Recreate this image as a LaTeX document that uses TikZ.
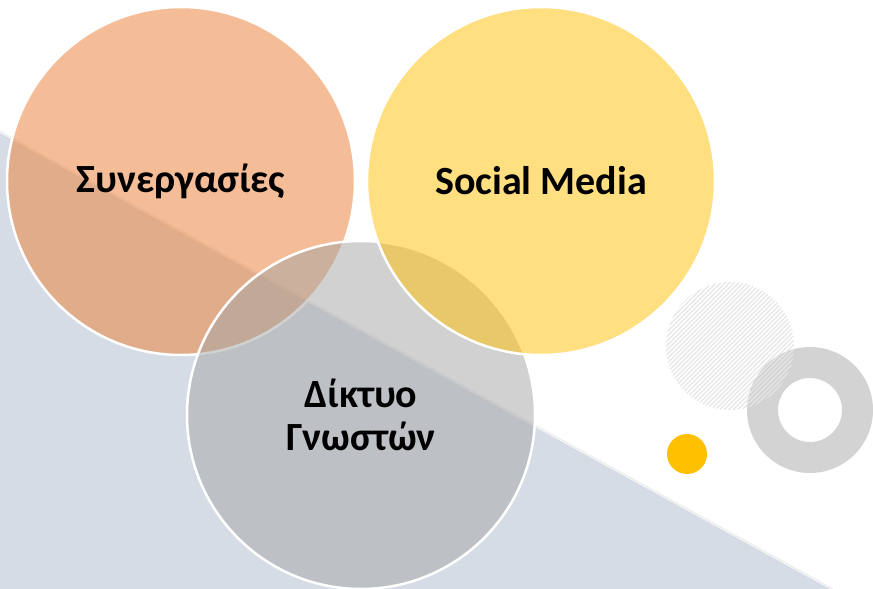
\documentclass[tikz,border=0pt]{standalone}
\usepackage{fontspec}
\setmainfont{Carlito}
\definecolor{bandc}{HTML}{D6DCE5}
\definecolor{orangec}{HTML}{ED7D31}
\definecolor{yellowc}{HTML}{FFC000}
\definecolor{greyc}{HTML}{A5A5A5}
\definecolor{ringc}{HTML}{D3D3D3}
\definecolor{hatchc}{HTML}{E6E6E6}
\definecolor{edgec}{HTML}{EEEEEE}
\begin{document}
\begin{tikzpicture}[x=1pt,y=-1pt,
  bubble/.style={circle, minimum size=348pt, inner sep=0pt, draw=white, line width=2.5pt,
    fill opacity=0.5, text opacity=1, text=black,
    font=\fontsize{40}{43}\selectfont\bfseries, align=center},
  hatchline/.style={draw=hatchc, line width=1.1pt}
]
\useasboundingbox (0,0) rectangle (873,589);
\fill[white] (0,0) rectangle (873,589);
% background band
\fill[bandc] (0,133) -- (830,589) -- (0,589) -- cycle;
\draw[edgec, line width=1.5pt] (0,131.5) -- (833,589);
% bubbles
\node[bubble, fill=orangec] (coop) at (181,181) {Συνεργασίες};
\node[bubble, fill=greyc] (net) at (361,415) {Δίκτυο\\Γνωστών};
\node[bubble, fill=yellowc] (social) at (541,181) {Social Media};
% decorations
\fill[ringc, even odd rule] (810,410) circle[radius=63] (810,410) circle[radius=32];
\begin{scope}
  \clip (730,346) circle[radius=64];
  \foreach \i in {-140,-135.5,...,140} {
    \draw[hatchline] (730+\i-70,346+70) -- (730+\i+70,346-70);
  }
\end{scope}
\fill[yellowc] (687,454) circle[radius=20];
\end{tikzpicture}
\end{document}
